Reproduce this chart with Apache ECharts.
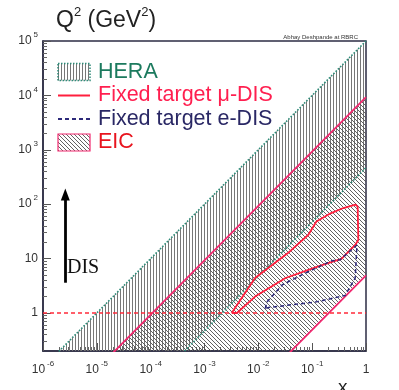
<!DOCTYPE html>
<html>
<head>
<meta charset="utf-8">
<script src="https://cdn.jsdelivr.net/npm/echarts@6/dist/echarts.min.js"></script>
<style>
  html, body { margin: 0; padding: 0; background: #fff; }
  #main { width: 399px; height: 390px; }
</style>
</head>
<body>
<div id="main"></div>
<script>
// axis ranges (x, Q2) and major ticks as powers of ten
var xRange = [1e-6, 1];
var qRange = [0.2, 1e5];
var xTicks = [-6, -5, -4, -3, -2, -1, 0];
var yTicks = [0, 1, 2, 3, 4, 5];

// kinematic limits, end points [x, Q2]
var heraUpper = [[1e-6, 0.1], [1, 1e5]];
var heraLower = [[1e-4, 0.047], [1, 470]];
var eicUpper = [[1e-6, 0.0093], [1, 9300]];
var eicLower = [[1e-3, 0.0049], [1, 4.9]];
var q2One = [[1e-6, 1], [1, 1]];

// fixed target contours [x, Q2]
var muDis = [[0.0032, 1.0], [0.004, 1.0], [0.0087, 2.0], [0.032, 4.4], [0.13, 7.2],
  [0.25, 8.9], [0.35, 9.9], [0.63, 17.8], [0.72, 22], [0.70, 90], [0.64, 98],
  [0.38, 85], [0.22, 68], [0.12, 48], [0.085, 27.4], [0.035, 12.5],
  [0.0087, 4.4], [0.0032, 1.0]];
var eDis = [[0.0134, 1.2], [0.0145, 1.6], [0.028, 3.3], [0.074, 5.4], [0.23, 9.1],
  [0.33, 9.5], [0.68, 17.8], [0.63, 4.4], [0.41, 2.1], [0.12, 1.6], [0.0155, 1.26],
  [0.0134, 1.2]];
var disArrow = [[2.6e-6, 3.6], [2.6e-6, 150]];

var L = Math.log10;
function toLog(pts) {
  return pts.map(function (p) { return [L(p[0]), L(p[1])]; });
}

var minorX = [];
for (var n = -6; n < 0; n++) for (var k = 2; k < 10; k++) minorX.push(n + L(k));
var minorY = [];
for (var m = -1; m < 5; m++) for (var j = 2; j < 10; j++) {
  if (m + L(j) > L(qRange[0])) minorY.push(m + L(j));
}

function hatch(kind) {
  var c = document.createElement('canvas');
  var ctx;
  if (kind === 'v') {
    c.width = 3; c.height = 3;
    ctx = c.getContext('2d');
    ctx.fillStyle = '#777';
    ctx.fillRect(0, 0, 1, 3);
  } else {
    c.width = 4; c.height = 4;
    ctx = c.getContext('2d');
    ctx.strokeStyle = '#505050';
    ctx.lineWidth = 0.9;
    ctx.beginPath();
    ctx.moveTo(-1, -1); ctx.lineTo(5, 5);
    ctx.moveTo(-1, 3); ctx.lineTo(1, 5);
    ctx.moveTo(3, -1); ctx.lineTo(5, 1);
    ctx.stroke();
  }
  return { image: c, repeat: 'repeat' };
}
var heraFill = hatch('v');
var eicFill = hatch('d');

function polySeries(name, pts, fill) {
  var data = toLog(pts);
  return {
    name: name, type: 'custom', clip: true, silent: true, z: 1,
    itemStyle: { color: fill },
    data: data,
    renderItem: function (params, api) {
      if (params.dataIndex !== 0) return;
      return {
        type: 'polygon',
        shape: { points: data.map(function (p) { return api.coord(p); }) },
        style: { fill: fill, stroke: null }
      };
    }
  };
}

function lineSeries(name, pts, color, type, width) {
  return {
    name: name, type: 'line', data: toLog(pts), symbol: 'none', z: 3,
    clip: true, silent: true, animation: false,
    lineStyle: { color: color, type: type, width: width },
    itemStyle: { color: color }
  };
}

function fmt(isY) {
  return function (v) {
    v = Math.round(v);
    if (v === 0) return '{b|1}';
    if (v === 1 && isY) return '{b|10}';
    return '{b|10}{s|' + v + '}';
  };
}
var labRich = {
  b: { fontSize: 12, fontFamily: 'Liberation Sans', color: '#333', lineHeight: 20 },
  s: { fontSize: 8, fontFamily: 'Liberation Sans', color: '#333', lineHeight: 8,
       verticalAlign: 'top', padding: [0, 0, 0, 2] }
};

var frame = '#2c2d44';
var teal = '#2e8b78';
var pink = '#f2286f';

var chart = echarts.init(document.getElementById('main'));
chart.setOption({
  animation: false,
  grid: { left: 43, right: 33, top: 41, bottom: 39, show: true,
          borderColor: frame, borderWidth: 1.5 },
  title: {
    left: 56, top: 6, padding: 0,
    text: '{q|Q}{s|2}{q| (GeV}{s|2}{q|)}',
    textStyle: {
      rich: {
        q: { fontSize: 23, fontWeight: 'normal', fontFamily: 'Liberation Sans', color: '#222', lineHeight: 30 },
        s: { fontSize: 13, fontWeight: 'normal', fontFamily: 'Liberation Sans', color: '#222', lineHeight: 15,
             verticalAlign: 'top' }
      }
    }
  },
  legend: {
    orient: 'vertical', left: 57, top: 61, padding: 0,
    itemWidth: 32, itemHeight: 17, itemGap: 1.5,
    selectedMode: false,
    textStyle: { fontSize: 21.5, fontFamily: 'Liberation Sans', padding: [0, 0, 0, 3] },
    data: [
      { name: 'HERA', icon: 'rect', textStyle: { color: '#1c7a5e' },
        itemStyle: { color: heraFill, borderColor: teal, borderWidth: 1.5, borderType: 'dotted' } },
      { name: 'Fixed target μ-DIS', textStyle: { color: '#ff1f4f' }, itemStyle: { opacity: 0 } },
      { name: 'Fixed target e-DIS', textStyle: { color: '#2a2865' }, itemStyle: { opacity: 0 } },
      { name: 'EIC', icon: 'rect', textStyle: { color: '#e8141e' },
        itemStyle: { color: eicFill, borderColor: pink, borderWidth: 1.2 } }
    ]
  },
  xAxis: [{
    type: 'value', position: 'bottom', min: L(xRange[0]), max: L(xRange[1]), interval: 1,
    axisLine: { onZero: false, lineStyle: { color: frame, width: 1.5 } },
    axisTick: { inside: true, length: 8, customValues: xTicks, lineStyle: { color: '#555' } },
    axisLabel: { margin: 9, customValues: xTicks, formatter: fmt(false), rich: labRich },
    splitLine: { show: false }
  }, {
    type: 'value', position: 'bottom', offset: 0, min: L(xRange[0]), max: L(xRange[1]),
    axisLine: { show: false, onZero: false },
    axisTick: { inside: true, length: 4, customValues: minorX, lineStyle: { color: '#666' } },
    axisLabel: { show: false }, splitLine: { show: false }
  }],
  yAxis: [{
    type: 'value', position: 'left', min: L(qRange[0]), max: L(qRange[1]),
    axisLine: { show: true, onZero: false, lineStyle: { color: frame, width: 1.5 } },
    axisTick: { show: true, inside: true, length: 8, customValues: yTicks, lineStyle: { color: '#555' } },
    axisLabel: { margin: 5, customValues: yTicks, formatter: fmt(true), rich: labRich },
    splitLine: { show: false }
  }, {
    type: 'value', position: 'left', offset: 0, min: L(qRange[0]), max: L(qRange[1]),
    axisLine: { show: false, onZero: false },
    axisTick: { show: true, inside: true, length: 4, customValues: minorY, lineStyle: { color: '#666' } },
    axisLabel: { show: false }, splitLine: { show: false }
  }],
  graphic: [
    { type: 'text', left: 67, top: 258,
      style: { text: 'DIS', fontSize: 20, fontFamily: 'Liberation Serif', fill: '#111' } },
    { type: 'text', right: 41, top: 34,
      style: { text: 'Abhay Deshpande at RBRC', fontSize: 6, fontFamily: 'Liberation Sans', fill: '#333' } },
    { type: 'text', left: 338, top: 378,
      style: { text: 'x', fontSize: 19, fontFamily: 'Liberation Sans', fill: '#222' } }
  ],
  series: [
    polySeries('HERA', heraLower.concat(heraUpper.slice().reverse()), heraFill),
    polySeries('EIC', eicLower.concat(eicUpper.slice().reverse()), eicFill),
    lineSeries('heraUp', heraUpper, teal, 'dotted', 1.6),
    lineSeries('heraLo', heraLower, teal, 'dotted', 1.6),
    lineSeries('eicUp', eicUpper, pink, 'solid', 1.8),
    lineSeries('eicLo', eicLower, pink, 'solid', 1.8),
    Object.assign(lineSeries('q2one', q2One, '#ff2a3a', [4, 3], 1.3), {
      markLine: {
        silent: true, symbol: ['none', 'triangle'], symbolSize: [9, 12],
        label: { show: false },
        lineStyle: { color: '#000', width: 2.8, type: 'solid' },
        data: [[{ coord: toLog(disArrow)[0] }, { coord: toLog(disArrow)[1] }]]
      }
    }),
    lineSeries('Fixed target μ-DIS', muDis, '#ff1f3d', 'solid', 1.8),
    lineSeries('Fixed target e-DIS', eDis, '#2d2a7a', [4, 3], 1.5)
  ]
});
</script>
</body>
</html>
